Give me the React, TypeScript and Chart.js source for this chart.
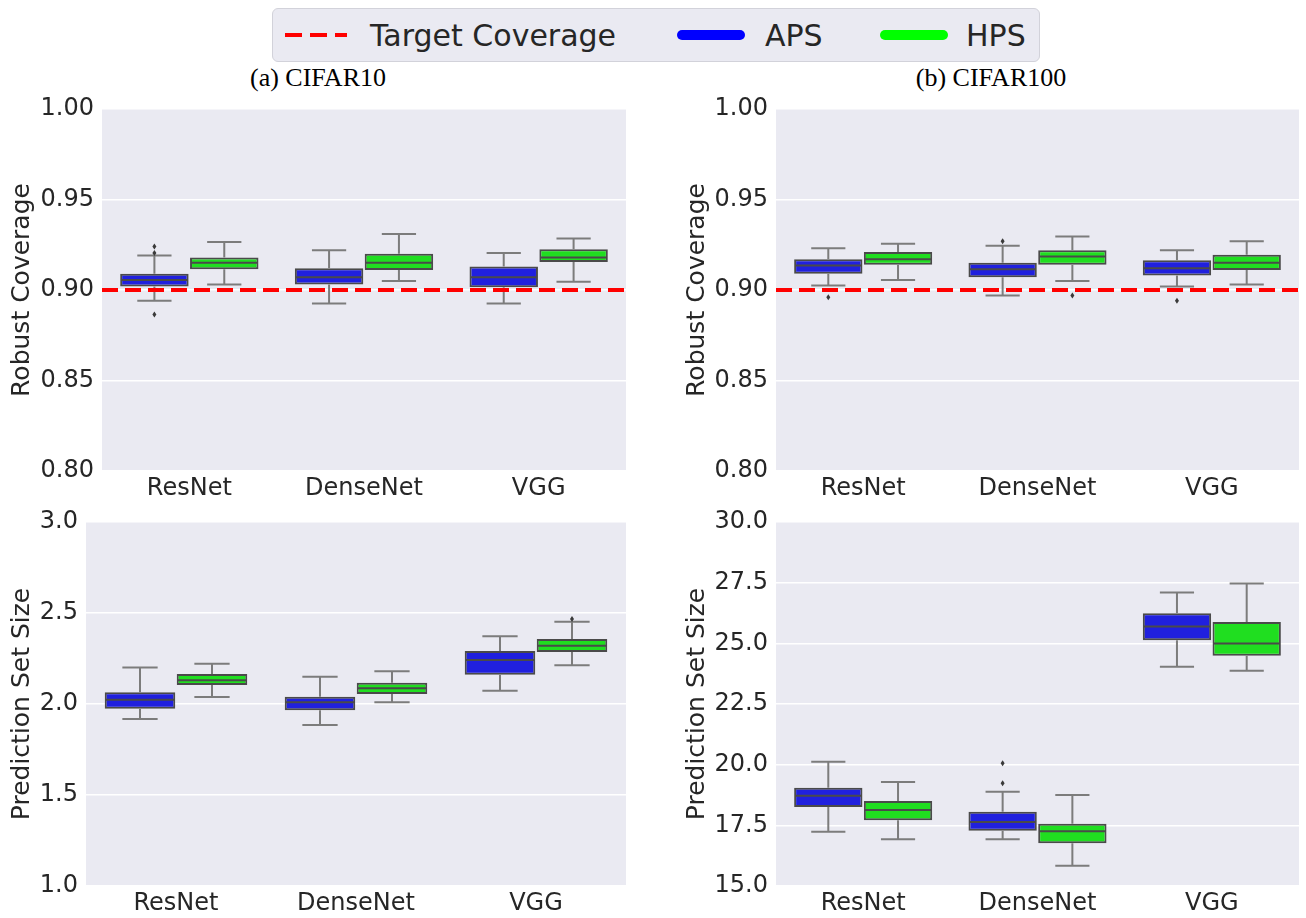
import React, { useEffect, useRef } from 'react';
import { Chart, registerables } from 'chart.js';

Chart.register(...registerables);

// Categories and groups
const categories = ['ResNet', 'DenseNet', 'VGG'];
const seriesNames = ['APS', 'HPS'];
const targetCoverage = 0.9;

// Five-number summaries per model: [lower whisker, Q1, median, Q3, upper whisker]
const cifar10CoverageAPS = [
  [0.894, 0.902, 0.9055, 0.909, 0.919],
  [0.8925, 0.903, 0.907, 0.912, 0.922],
  [0.8925, 0.9015, 0.907, 0.913, 0.9205],
];
const cifar10CoverageHPS = [
  [0.903, 0.9115, 0.915, 0.918, 0.9265],
  [0.905, 0.911, 0.915, 0.92, 0.931],
  [0.9045, 0.9155, 0.918, 0.9225, 0.9285],
];
const cifar100CoverageAPS = [
  [0.9025, 0.909, 0.9135, 0.917, 0.923],
  [0.897, 0.907, 0.9115, 0.915, 0.9245],
  [0.902, 0.908, 0.912, 0.9165, 0.922],
];
const cifar100CoverageHPS = [
  [0.9055, 0.914, 0.917, 0.921, 0.9255],
  [0.905, 0.914, 0.9185, 0.922, 0.9295],
  [0.903, 0.911, 0.915, 0.9195, 0.927],
];
const cifar10SizeAPS = [
  [1.918, 1.974, 2.024, 2.064, 2.2],
  [1.885, 1.965, 2.009, 2.04, 2.15],
  [2.073, 2.161, 2.242, 2.291, 2.372],
];
const cifar10SizeHPS = [
  [2.039, 2.104, 2.13, 2.165, 2.221],
  [2.009, 2.055, 2.086, 2.117, 2.18],
  [2.213, 2.286, 2.32, 2.357, 2.452],
];
const cifar100SizeAPS = [
  [17.24, 18.26, 18.72, 19.05, 20.12],
  [16.93, 17.28, 17.64, 18.06, 18.88],
  [24.04, 25.13, 25.69, 26.24, 27.09],
];
const cifar100SizeHPS = [
  [16.93, 17.71, 18.13, 18.5, 19.29],
  [15.83, 16.76, 17.26, 17.57, 18.75],
  [23.87, 24.49, 24.99, 25.88, 27.47],
];

// Outlying runs per model
const cifar10CoverageAPSOutliers = [[0.924, 0.9205, 0.8865], [], []];
const cifar10CoverageHPSOutliers = [[], [], []];
const cifar100CoverageAPSOutliers = [[0.896], [0.927], [0.894]];
const cifar100CoverageHPSOutliers = [[], [0.897], []];
const cifar10SizeAPSOutliers = [[], [], []];
const cifar10SizeHPSOutliers = [[], [], [2.467]];
const cifar100SizeAPSOutliers = [[], [20.06, 19.23], []];
const cifar100SizeHPSOutliers = [[], [], []];

// Axis ticks
const coverageTicks = [0.8, 0.85, 0.9, 0.95, 1.0];
const cifar10SizeTicks = [1.0, 1.5, 2.0, 2.5, 3.0];
const cifar100SizeTicks = [15.0, 17.5, 20.0, 22.5, 25.0, 27.5, 30.0];

const boxFills = ['#2020de', '#20de20'];
const legendLines = ['#0000ff', '#00ff00'];
const edgeColor = '#4a4a4a';
const whiskerColor = '#7c7c7c';
const panelBg = '#eaeaf2';
const textColor = '#262626';
const sansFont = '"DejaVu Sans", sans-serif';

const boxWhiskerPlugin = {
  id: 'boxWhiskers',
  beforeDraw(chart: any) {
    const { ctx, chartArea: a } = chart;
    ctx.save();
    ctx.fillStyle = panelBg;
    ctx.fillRect(a.left, a.top, a.right - a.left, a.bottom - a.top);
    ctx.restore();
  },
  afterDatasetsDraw(chart: any, _args: any, opts: any) {
    const { ctx, chartArea: a } = chart;
    const y = chart.scales.y;
    ctx.save();
    chart.data.datasets.forEach((_ds: any, di: number) => {
      const meta = chart.getDatasetMeta(di);
      meta.data.forEach((bar: any, ci: number) => {
        const [lo, q1, med, q3, hi] = opts.stats[di][ci];
        const { x, width } = bar.getProps(['x', 'width'], true);
        ctx.lineCap = 'butt';
        ctx.strokeStyle = whiskerColor;
        ctx.lineWidth = 2;
        ctx.beginPath();
        ctx.moveTo(x, y.getPixelForValue(q3));
        ctx.lineTo(x, y.getPixelForValue(hi));
        ctx.moveTo(x, y.getPixelForValue(q1));
        ctx.lineTo(x, y.getPixelForValue(lo));
        ctx.moveTo(x - width / 4, y.getPixelForValue(hi));
        ctx.lineTo(x + width / 4, y.getPixelForValue(hi));
        ctx.moveTo(x - width / 4, y.getPixelForValue(lo));
        ctx.lineTo(x + width / 4, y.getPixelForValue(lo));
        ctx.stroke();

        ctx.strokeStyle = edgeColor;
        ctx.lineWidth = 2;
        ctx.beginPath();
        ctx.moveTo(x - width / 2 + 1, y.getPixelForValue(med));
        ctx.lineTo(x + width / 2 - 1, y.getPixelForValue(med));
        ctx.stroke();

        ctx.fillStyle = '#3a3a3a';
        (opts.outliers[di][ci] || []).forEach((v: number) => {
          const py = y.getPixelForValue(v);
          ctx.beginPath();
          ctx.moveTo(x, py - 3);
          ctx.lineTo(x + 2, py);
          ctx.lineTo(x, py + 3);
          ctx.lineTo(x - 2, py);
          ctx.closePath();
          ctx.fill();
        });
      });
    });
    if (opts.target != null) {
      const py = y.getPixelForValue(opts.target);
      ctx.strokeStyle = '#ff0000';
      ctx.lineWidth = 4;
      ctx.setLineDash([16, 7]);
      ctx.beginPath();
      ctx.moveTo(a.left, py);
      ctx.lineTo(a.right, py);
      ctx.stroke();
      ctx.setLineDash([]);
    }
    ctx.restore();
  },
};

type PanelProps = {
  left: number;
  top: number;
  width: number;
  height: number;
  yWidth: number;
  padRight: number;
  yTitle: string;
  stats: number[][][];
  outliers: number[][][];
  ticks: number[];
  decimals: number;
  target?: number;
};

function BoxPanel(p: PanelProps) {
  const ref = useRef<HTMLCanvasElement>(null);
  useEffect(() => {
    if (!ref.current) return;
    const chart = new Chart(ref.current, {
      type: 'bar',
      data: {
        labels: categories,
        datasets: seriesNames.map((name, i) => ({
          label: name,
          data: p.stats[i].map((s) => [s[1], s[3]]),
          backgroundColor: boxFills[i],
          borderColor: edgeColor,
          borderWidth: 2,
          borderSkipped: false,
          categoryPercentage: 0.8,
          barPercentage: 0.98,
        })),
      } as any,
      options: {
        responsive: false,
        animation: false,
        devicePixelRatio: 1,
        events: [],
        layout: { padding: { left: 0, top: 14, right: p.padRight, bottom: 0 } },
        plugins: {
          legend: { display: false },
          tooltip: { enabled: false },
          boxWhiskers: { stats: p.stats, outliers: p.outliers, target: p.target },
        } as any,
        scales: {
          x: {
            grid: { display: false },
            border: { display: false },
            ticks: { font: { family: sansFont, size: 24 }, color: textColor, padding: -5 },
            afterFit: (s: any) => {
              s.height = 32;
              s.paddingLeft = 0;
              s.paddingRight = 0;
            },
          },
          y: {
            min: p.ticks[0],
            max: p.ticks[p.ticks.length - 1],
            grid: { color: '#ffffff', lineWidth: 1.5, drawTicks: false },
            border: { display: false },
            ticks: {
              font: { family: sansFont, size: 24 },
              color: textColor,
              padding: 8,
              callback: (v: any) => Number(v).toFixed(p.decimals),
            },
            afterBuildTicks: (s: any) => {
              s.ticks = p.ticks.map((v) => ({ value: v }));
            },
            title: {
              display: true,
              text: p.yTitle,
              font: { family: sansFont, size: 25 },
              color: textColor,
              padding: { top: 7, bottom: 0 },
            },
            afterFit: (s: any) => {
              s.width = p.yWidth;
              s.paddingTop = 0;
              s.paddingBottom = 0;
            },
          },
        },
      } as any,
      plugins: [boxWhiskerPlugin],
    });
    return () => chart.destroy();
  }, []);
  return (
    <canvas
      ref={ref}
      width={p.width}
      height={p.height}
      style={{ position: 'absolute', left: p.left, top: p.top, width: p.width, height: p.height }}
    />
  );
}

function Legend() {
  const text: React.CSSProperties = {
    position: 'absolute',
    top: 0,
    lineHeight: '54px',
    fontFamily: sansFont,
    fontSize: 30,
    color: textColor,
    whiteSpace: 'nowrap',
  };
  return (
    <div
      style={{
        position: 'absolute',
        left: 272,
        top: 8,
        width: 766,
        height: 52,
        background: panelBg,
        border: '1px solid #d2d2da',
        borderRadius: 6,
      }}
    >
      <div
        style={{
          position: 'absolute',
          left: 12,
          top: 24,
          width: 62,
          height: 4,
          background: 'repeating-linear-gradient(90deg, #ff0000 0 17px, transparent 17px 25px)',
        }}
      />
      <div style={{ ...text, left: 97 }}>Target Coverage</div>
      <div
        style={{
          position: 'absolute',
          left: 404,
          top: 21,
          width: 68,
          height: 10,
          borderRadius: 5,
          background: legendLines[0],
        }}
      />
      <div style={{ ...text, left: 492 }}>{seriesNames[0]}</div>
      <div
        style={{
          position: 'absolute',
          left: 607,
          top: 21,
          width: 68,
          height: 10,
          borderRadius: 5,
          background: legendLines[1],
        }}
      />
      <div style={{ ...text, left: 693 }}>{seriesNames[1]}</div>
    </div>
  );
}

function PanelTitle({ x, text }: { x: number; text: string }) {
  return (
    <div
      style={{
        position: 'absolute',
        left: x - 150,
        top: 63,
        width: 300,
        textAlign: 'center',
        fontFamily: '"Liberation Serif", serif',
        fontSize: 26,
        lineHeight: '30px',
        color: '#000',
      }}
    >
      {text}
    </div>
  );
}

export default function App() {
  return (
    <div
      style={{
        position: 'fixed',
        left: 0,
        top: 0,
        width: 1306,
        height: 918,
        background: '#ffffff',
        overflow: 'hidden',
      }}
    >
      <Legend />
      <PanelTitle x={318} text="(a) CIFAR10" />
      <PanelTitle x={991} text="(b) CIFAR100" />
      <BoxPanel
        left={0}
        top={95}
        width={636}
        height={408}
        yWidth={102}
        padRight={10}
        yTitle="Robust Coverage"
        stats={[cifar10CoverageAPS, cifar10CoverageHPS]}
        outliers={[cifar10CoverageAPSOutliers, cifar10CoverageHPSOutliers]}
        ticks={coverageTicks}
        decimals={2}
        target={targetCoverage}
      />
      <BoxPanel
        left={675}
        top={95}
        width={631}
        height={408}
        yWidth={101}
        padRight={7}
        yTitle="Robust Coverage"
        stats={[cifar100CoverageAPS, cifar100CoverageHPS]}
        outliers={[cifar100CoverageAPSOutliers, cifar100CoverageHPSOutliers]}
        ticks={coverageTicks}
        decimals={2}
        target={targetCoverage}
      />
      <BoxPanel
        left={0}
        top={508}
        width={636}
        height={410}
        yWidth={86}
        padRight={10}
        yTitle="Prediction Set Size"
        stats={[cifar10SizeAPS, cifar10SizeHPS]}
        outliers={[cifar10SizeAPSOutliers, cifar10SizeHPSOutliers]}
        ticks={cifar10SizeTicks}
        decimals={1}
      />
      <BoxPanel
        left={675}
        top={508}
        width={631}
        height={410}
        yWidth={101}
        padRight={7}
        yTitle="Prediction Set Size"
        stats={[cifar100SizeAPS, cifar100SizeHPS]}
        outliers={[cifar100SizeAPSOutliers, cifar100SizeHPSOutliers]}
        ticks={cifar100SizeTicks}
        decimals={1}
      />
    </div>
  );
}
